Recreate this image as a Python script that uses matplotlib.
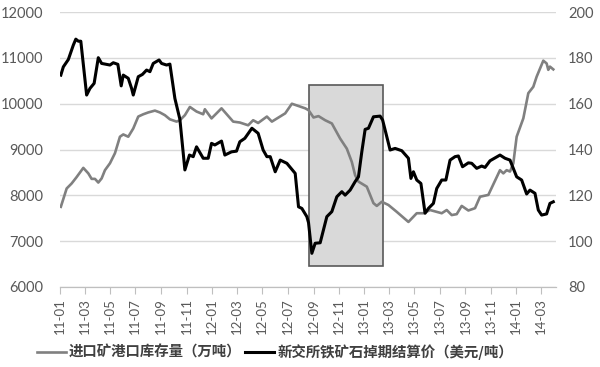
import matplotlib
matplotlib.use("Agg")
import matplotlib.pyplot as plt
import matplotlib.dates as mdates
import pandas as pd
from matplotlib.patches import Rectangle

# port inventory of imported ore (10k t), left axis
stock_dates = [
    "2011-01-03", "2011-01-17", "2011-01-29", "2011-02-10", "2011-02-26", "2011-03-10",
    "2011-03-18", "2011-03-26", "2011-04-03", "2011-04-11", "2011-04-19", "2011-05-01",
    "2011-05-13", "2011-05-25", "2011-06-02", "2011-06-14", "2011-06-26", "2011-07-08",
    "2011-07-20", "2011-08-01", "2011-08-17", "2011-08-29", "2011-09-10", "2011-09-22",
    "2011-10-08", "2011-10-16", "2011-10-28", "2011-11-09", "2011-11-25", "2011-12-11",
    "2011-12-15", "2011-12-31", "2012-01-24", "2012-02-21", "2012-03-08", "2012-03-28",
    "2012-04-09", "2012-04-21", "2012-05-12", "2012-05-24", "2012-06-25", "2012-07-11",
    "2012-07-27", "2012-08-12", "2012-08-20", "2012-09-01", "2012-09-13", "2012-09-29",
    "2012-10-15", "2012-11-04", "2012-11-20", "2012-12-02", "2012-12-10", "2012-12-18",
    "2013-01-07", "2013-01-23", "2013-01-31", "2013-02-12", "2013-02-28", "2013-03-20",
    "2013-04-17", "2013-05-07", "2013-05-23", "2013-06-08", "2013-06-24", "2013-07-06",
    "2013-07-18", "2013-07-30", "2013-08-11", "2013-08-23", "2013-09-08", "2013-09-24",
    "2013-10-06", "2013-10-26", "2013-11-23", "2013-12-01", "2013-12-09", "2013-12-17",
    "2013-12-25", "2014-01-02", "2014-01-18", "2014-01-30", "2014-02-11", "2014-02-19",
    "2014-03-07", "2014-03-15", "2014-03-19", "2014-03-23", "2014-03-31",
]
stock = [
    7750, 8150, 8260, 8400, 8600, 8480,
    8360, 8360, 8280, 8370, 8550, 8700,
    8920, 9280, 9330, 9280, 9460, 9720,
    9770, 9810, 9850, 9810, 9750, 9660,
    9610, 9640, 9750, 9930, 9830, 9770,
    9880, 9680, 9900, 9610, 9590, 9530,
    9640, 9580, 9720, 9610, 9790, 10000,
    9950, 9900, 9860, 9700, 9730, 9640,
    9570, 9240, 9020, 8730, 8440, 8300,
    8190, 7830, 7770, 7860, 7790, 7640,
    7420, 7610, 7610, 7680, 7640, 7610,
    7680, 7570, 7590, 7770, 7670, 7720,
    7970, 8010, 8550, 8480, 8550, 8520,
    8700, 9280, 9680, 10230, 10370, 10590,
    10940, 10880, 10740, 10810, 10750,
]

# SGX iron ore swap settlement price (USD/t), right axis
price_dates = [
    "2011-01-03", "2011-01-09", "2011-01-21", "2011-02-02", "2011-02-08", "2011-02-14",
    "2011-02-20", "2011-03-06", "2011-03-14", "2011-03-24", "2011-04-03", "2011-04-11",
    "2011-05-01", "2011-05-09", "2011-05-20", "2011-05-28", "2011-06-02", "2011-06-14",
    "2011-06-22", "2011-06-26", "2011-07-08", "2011-07-18", "2011-07-28", "2011-08-05",
    "2011-08-13", "2011-08-27", "2011-09-02", "2011-09-14", "2011-09-22", "2011-10-04",
    "2011-10-16", "2011-10-28", "2011-11-08", "2011-11-17", "2011-11-25", "2011-12-11",
    "2011-12-23", "2011-12-31", "2012-01-08", "2012-01-24", "2012-02-01", "2012-02-17",
    "2012-02-29", "2012-03-08", "2012-03-20", "2012-04-06", "2012-04-21", "2012-05-03",
    "2012-05-12", "2012-05-20", "2012-06-01", "2012-06-13", "2012-06-29", "2012-07-19",
    "2012-07-27", "2012-08-04", "2012-08-16", "2012-08-20", "2012-08-28", "2012-09-05",
    "2012-09-17", "2012-10-03", "2012-10-15", "2012-10-27", "2012-11-08", "2012-11-16",
    "2012-11-28", "2012-12-10", "2012-12-18", "2012-12-26", "2013-01-03", "2013-01-11",
    "2013-01-23", "2013-02-08", "2013-02-14", "2013-02-22", "2013-03-04", "2013-03-16",
    "2013-04-01", "2013-04-17", "2013-04-23", "2013-04-29", "2013-05-07", "2013-05-17",
    "2013-05-27", "2013-06-04", "2013-06-16", "2013-06-24", "2013-07-06", "2013-07-16",
    "2013-07-26", "2013-08-07", "2013-08-15", "2013-08-25", "2013-09-08", "2013-09-16",
    "2013-09-28", "2013-10-10", "2013-10-18", "2013-10-30", "2013-11-23", "2013-12-05",
    "2013-12-17", "2014-01-02", "2014-01-14", "2014-01-26", "2014-02-03", "2014-02-15",
    "2014-02-23", "2014-03-03", "2014-03-15", "2014-03-23", "2014-03-31",
]
price = [
    172.5, 176.1, 179.3, 185.6, 188.2, 187.3,
    187.3, 163.8, 166.7, 168.9, 180.1, 177.6,
    176.9, 177.9, 177.2, 167.8, 172.5, 171.1,
    166.7, 163.8, 171.8, 172.8, 174.7, 174.0,
    177.6, 179.1, 177.6, 176.9, 177.3, 162.3,
    153.2, 131.1, 137.6, 136.9, 141.2, 136.2,
    136.2, 142.7, 142.0, 143.7, 137.6, 139.0,
    139.3, 143.4, 144.9, 149.3, 147.1, 139.8,
    136.9, 136.9, 130.3, 135.4, 134.0, 129.6,
    115.0, 114.3, 110.7, 108.1, 94.7, 99.1,
    99.3, 110.7, 112.9, 119.4, 121.6, 120.1,
    122.3, 126.0, 128.1, 139.0, 148.8, 149.3,
    154.3, 154.6, 152.9, 147.1, 139.8, 140.5,
    139.5, 136.2, 127.4, 130.3, 126.7, 125.2,
    112.2, 114.3, 116.5, 123.0, 126.7, 126.7,
    135.4, 136.9, 137.2, 132.5, 134.2, 134.0,
    131.8, 132.8, 132.2, 135.1, 137.6, 136.2,
    135.4, 128.1, 126.7, 120.6, 122.3, 120.9,
    113.6, 111.4, 111.9, 116.5, 117.2,
]

# highlighted period (left-axis units)
box_start, box_end = "2012-08-21", "2013-02-15"
box_low, box_high = 6450, 10400

stock_label = "进口矿港口库存量（万吨）"
price_label = "新交所铁矿石掉期结算价（美元/吨）"

plt.rcParams['font.family'] = ['Lato', 'Noto Sans CJK SC', 'DejaVu Sans']
text_color = '#595959'

fig = plt.figure(figsize=(6, 3.67), dpi=100)
ax = fig.add_axes([0.1, 0.218, 0.827, 0.749])
ax2 = ax.twinx()

sd = pd.to_datetime(stock_dates)
pdt = pd.to_datetime(price_dates)

x0 = mdates.date2num(pd.Timestamp(box_start))
x1 = mdates.date2num(pd.Timestamp(box_end))
ax.add_patch(Rectangle((x0, box_low), x1 - x0, box_high - box_low,
                       facecolor='#d9d9d9', edgecolor='#595959', lw=1.2, zorder=2))

l1, = ax.plot(sd, stock, color='#808080', lw=1.9, zorder=3)
l2, = ax2.plot(pdt, price, color='black', lw=2.2, zorder=3)

ax.set_ylim(6000, 12000)
ax.set_yticks(range(6000, 12001, 1000))
ax2.set_ylim(80, 200)
ax2.set_yticks(range(80, 201, 20))
ax.set_xlim(pd.Timestamp("2011-01-01"), pd.Timestamp("2014-04-07"))

ax.grid(axis='y', color='#d9d9d9', lw=1)
ax.set_axisbelow(True)

ax.xaxis.set_major_locator(mdates.MonthLocator(bymonth=[1, 3, 5, 7, 9, 11]))
ax.xaxis.set_major_formatter(mdates.DateFormatter('%y-%m'))
ax.tick_params(axis='x', labelrotation=90, labelsize=9.5, colors='#bfbfbf',
               labelcolor=text_color, length=5, pad=3)
ax.tick_params(axis='y', length=0, labelsize=10.5, labelcolor=text_color, pad=12)
ax2.tick_params(axis='y', length=0, labelsize=10.5, labelcolor=text_color, pad=8.5)

for a in (ax, ax2):
    for s in ('top', 'left', 'right'):
        a.spines[s].set_visible(False)
    a.spines['bottom'].set_color('#bfbfbf')

fig.legend([l1, l2], [stock_label, price_label], loc='center',
           bbox_to_anchor=(0.458, 0.041), ncol=2, frameon=False,
           prop={'family': ['Noto Sans CJK SC'], 'size': 10.4, 'weight': 'bold'},
           labelcolor='#404040', handlelength=2.0, handletextpad=0.2,
           columnspacing=0.3)

fig.savefig('out.png', dpi=100)
